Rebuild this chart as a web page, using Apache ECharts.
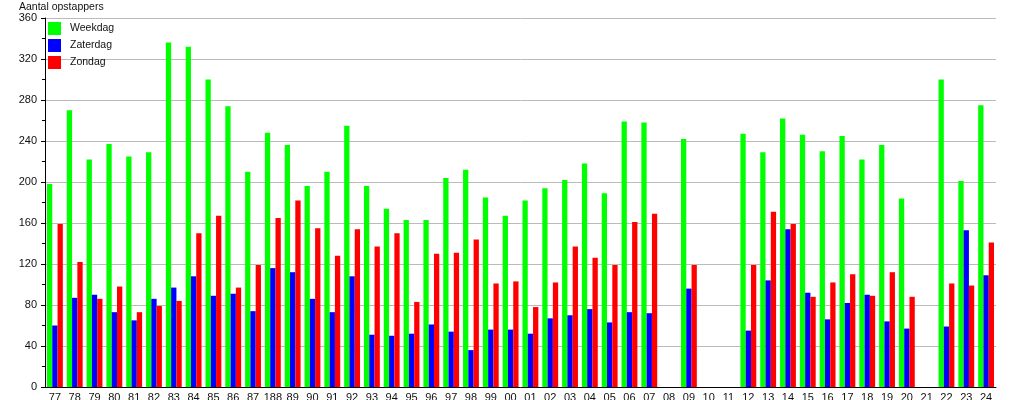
<!DOCTYPE html>
<html>
<head>
<meta charset="utf-8">
<script src="https://cdn.jsdelivr.net/npm/echarts@6/dist/echarts.min.js"></script>
<style>html,body{margin:0;padding:0;background:#fff;}#c{width:1015px;height:400px;}</style>
</head>
<body>
<div id="c"></div>
<script>
const categories = ['77','78','79','80','81','82','83','84','85','86','87','188','89','90','91','92','93','94','95','96','97','98','99','00','01','02','03','04','05','06','07','08','09','10','11','12','13','14','15','16','17','18','19','20','21','22','23','24'];
const weekdag = [198,270,222,237,225,229,336,332,300,274,210,248,236,196,210,255,196,174,163,163,204,212,185,167,182,194,202,218,189,259,258,null,242,null,null,247,229,262,246,230,245,222,236,184,null,300,201,275];
const zaterdag = [60,87,90,73,65,86,97,108,89,91,74,116,112,86,73,108,51,50,52,61,54,36,56,56,52,67,70,76,63,73,72,null,96,null,null,55,104,154,92,66,82,90,64,57,null,59,153,109];
const zondag = [159,122,86,98,73,79,84,150,167,97,119,165,182,155,128,154,137,150,83,130,131,144,101,103,78,102,137,126,119,161,169,null,119,null,null,119,171,159,88,102,110,89,112,88,null,101,99,141];
const yTicks = {min: 0, max: 360, interval: 40};

const chart = echarts.init(document.getElementById('c'), null, {renderer: 'canvas'});
const font = 'Liberation Sans, Arial, sans-serif';
chart.setOption({
  animation: false,
  textStyle: {fontFamily: font},
  title: {
    text: 'Aantal opstappers', left: 19, top: 2, padding: 0,
    textStyle: {fontSize: 10.5, fontWeight: 'normal', color: '#111', fontFamily: font}
  },
  legend: {
    orient: 'vertical', left: 48, top: 22, padding: 0, itemWidth: 13, itemHeight: 13, itemGap: 4,
    icon: 'rect',
    textStyle: {fontSize: 10.5, color: '#111', fontFamily: font, padding: [0, 0, 0, 4]},
    data: ['Weekdag', 'Zaterdag', 'Zondag']
  },
  grid: {left: 45, right: 19, top: 18, bottom: 13, containLabel: false, outerBoundsMode: 'none'},
  xAxis: {
    type: 'category', data: categories,
    axisLine: {lineStyle: {color: '#000', width: 1}},
    axisTick: {show: false},
    axisLabel: {fontSize: 11, color: '#111', margin: 5, interval: 0, fontFamily: font}
  },
  yAxis: {
    type: 'value', min: yTicks.min, max: yTicks.max, interval: yTicks.interval,
    axisLine: {show: true, lineStyle: {color: '#000', width: 1}},
    axisTick: {show: true, length: 4, lineStyle: {color: '#000'}},
    minorTick: {show: true, splitNumber: 2, length: 3, lineStyle: {color: '#000'}},
    splitLine: {show: true, lineStyle: {color: '#bbbbbb', width: 1}},
    axisLabel: {fontSize: 11, color: '#111', margin: 8, fontFamily: font}
  },
  series: [
    {name: 'Weekdag', type: 'bar', data: weekdag, itemStyle: {color: '#00ff00'}, barGap: '0%', barCategoryGap: '20%'},
    {name: 'Zaterdag', type: 'bar', data: zaterdag, itemStyle: {color: '#0000ff'}, barGap: '0%', barCategoryGap: '20%'},
    {name: 'Zondag', type: 'bar', data: zondag, itemStyle: {color: '#ff0000'}, barGap: '0%', barCategoryGap: '20%'}
  ]
});
</script>
</body>
</html>
